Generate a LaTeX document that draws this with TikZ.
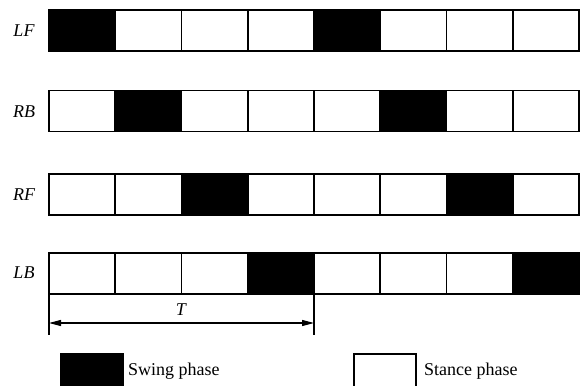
\documentclass[tikz,border=0pt]{standalone}
\usepackage{fontspec}
\setmainfont{Liberation Serif}
\usetikzlibrary{arrows.meta}
\begin{document}
\begin{tikzpicture}[x=1pt,y=-1pt,
  cell/.style={draw=black,line width=1.8pt,minimum width=66.25pt,minimum height=41pt,inner sep=0pt,outer sep=0pt,anchor=north west},
  swing/.style={cell,fill=black},
  stance/.style={cell,fill=white},
  leglabel/.style={font=\itshape\fontsize{18}{20}\selectfont,anchor=center},
  legtext/.style={font=\fontsize{18}{20}\selectfont,anchor=west,inner sep=0pt},
  dim/.style={line width=1.2pt}]
\clip (0,0) rectangle (580,385);
\fill[white] (0,0) rectangle (580,385);
% rows
\foreach \name/\y/\b in {LF/10/0,RB/90.5/1,RF/174/2,LB/253/3}{
  \foreach \i in {0,...,7}{
    \pgfmathtruncatemacro{\m}{mod(\i,4)}
    \ifnum\m=\b
      \node[swing] (\name\i) at ({49+66.25*\i},\y) {};
    \else
      \node[stance] (\name\i) at ({49+66.25*\i},\y) {};
    \fi
  }
}
\node[leglabel] (lLF) at (24,31) {LF};
\node[leglabel] (lRB) at (24,111.5) {RB};
\node[leglabel] (lRF) at (24,195) {RF};
\node[leglabel] (lLB) at (24,273) {LB};
% period T
\coordinate (t0) at (LB0.south west);
\coordinate (t1) at (LB3.south east);
\coordinate (t0b) at ([yshift=-41pt]t0);
\coordinate (t1b) at ([yshift=-41pt]t1);
\draw[dim] (t0) -- (t0b);
\draw[dim] (t1) -- (t1b);
\coordinate (a0) at ([yshift=-29pt]t0);
\coordinate (a1) at ([yshift=-29pt]t1);
\draw[dim,{Triangle[length=12pt,width=6pt]}-{Triangle[length=12pt,width=6pt]}] (a0) -- (a1);
\node[leglabel] (T) at (181,310) {T};
% legend
\node[swing,minimum width=62pt,minimum height=45pt] (legS) at (61,354) {};
\node[legtext] (legSt) at (128,371) {Swing phase};
\node[stance,minimum width=62pt,minimum height=45pt] (legW) at (354,354) {};
\node[legtext] (legWt) at (424,371) {Stance phase};
\end{tikzpicture}
\end{document}
